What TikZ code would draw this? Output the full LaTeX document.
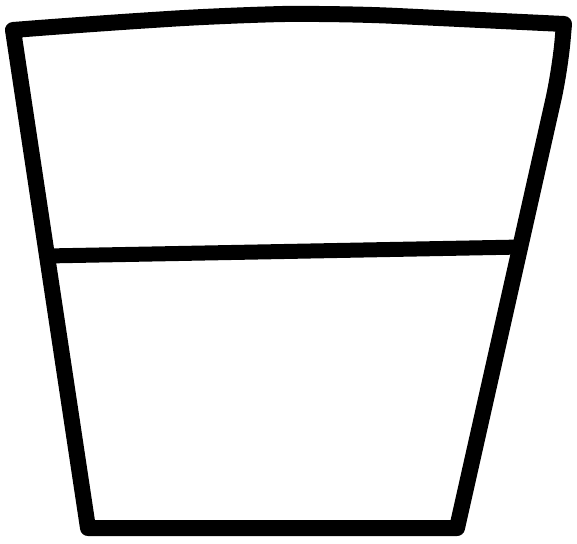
\documentclass[tikz,border=0pt]{standalone}
\usetikzlibrary{calc}

\begin{document}
\begin{tikzpicture}[
    x=1pt, y=-1pt,
    outline/.style={draw=black, line width=16pt, line join=round, line cap=round},
]
\useasboundingbox (0,0) rectangle (577,543);
% corners of the cup
\coordinate (TL) at (13,30);
\coordinate (TR) at (564,24);
\coordinate (BR) at (457,528);
\coordinate (BL) at (88,528);
% bends along the rim and the right side
\coordinate (T1) at (90,24);
\coordinate (T2) at (230,15);
\coordinate (T3) at (335,13);
\coordinate (T4) at (480,20);
\coordinate (R1) at (560,70);
% ends of the middle line
\coordinate (ML) at (46,256);
\coordinate (MR) at (522,247);
\draw[outline] (TL) [rounded corners=60pt] -- (T1) -- (T2) -- (T3) -- (T4)
    [sharp corners] -- (TR) [rounded corners=30pt] -- (R1) [sharp corners] -- (BR) -- (BL) -- cycle;
\draw[outline, line width=15pt, line cap=butt] (ML) -- (MR);
\end{tikzpicture}
\end{document}
